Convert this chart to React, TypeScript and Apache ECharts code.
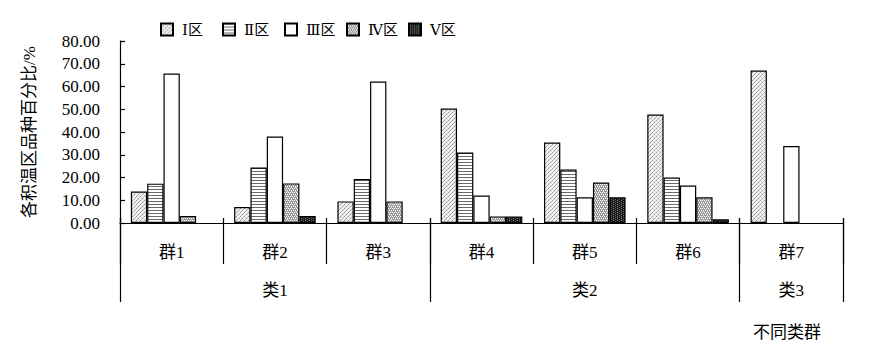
import React, { useEffect, useRef } from 'react';
import * as echarts from 'echarts';

const groups = ['群1', '群2', '群3', '群4', '群5', '群6', '群7'];
const classLabels = ['', '类1', '', '', '类2', '', '类3'];
const seriesNames = ['Ⅰ区', 'Ⅱ区', 'Ⅲ区', 'Ⅳ区', 'Ⅴ区'];
const zoneI = [13.8, 7.0, 9.5, 50.3, 35.4, 47.7, 67.0];
const zoneII = [17.3, 24.4, 19.3, 31.0, 23.5, 20.0, null];
const zoneIII = [65.7, 38.0, 62.2, 12.1, 11.3, 16.5, 33.8];
const zoneIV = [3.1, 17.4, 9.5, 2.9, 17.8, 11.3, null];
const zoneV = [null, 3.1, null, 2.9, 11.3, 1.6, null];
const yAxisTitle = '各积温区品种百分比/%';
const xAxisTitle = '不同类群';

const FONT = "'Liberation Serif', 'DejaVu Serif', 'Noto Sans CJK SC', serif";
const legendLefts = [160, 222, 284, 346, 408];

function makePattern(size: number, draw: (ctx: CanvasRenderingContext2D) => void) {
  const c = document.createElement('canvas');
  c.width = size;
  c.height = size;
  const ctx = c.getContext('2d') as CanvasRenderingContext2D;
  draw(ctx);
  return { image: c.toDataURL(), repeat: 'repeat', imageWidth: size, imageHeight: size };
}

function px(ctx: CanvasRenderingContext2D, x: number, y: number, col: string) {
  ctx.fillStyle = col;
  ctx.fillRect(x, y, 1, 1);
}

export default function App() {
  const ref = useRef<HTMLDivElement>(null);
  useEffect(() => {
    if (!ref.current) return;
    const chart = echarts.init(ref.current, undefined, { renderer: 'svg' });

    const patI = makePattern(4, (ctx) => {
      ctx.fillStyle = '#eaeaea';
      ctx.fillRect(0, 0, 4, 4);
      px(ctx, 0, 0, '#9a9a9a');
      px(ctx, 2, 2, '#9a9a9a');
      px(ctx, 1, 3, '#c0c0c0');
      px(ctx, 3, 1, '#c0c0c0');
      px(ctx, 2, 0, '#ffffff');
      px(ctx, 0, 2, '#ffffff');
    });
    const patII = makePattern(3, (ctx) => {
      ctx.fillStyle = '#ffffff';
      ctx.fillRect(0, 0, 3, 3);
      ctx.fillStyle = '#6a6a6a';
      ctx.fillRect(0, 0, 3, 1);
    });
    const patIV = makePattern(4, (ctx) => {
      ctx.fillStyle = '#9a9a9a';
      ctx.fillRect(0, 0, 4, 4);
      px(ctx, 0, 0, '#ffffff');
      px(ctx, 2, 0, '#ffffff');
      px(ctx, 1, 2, '#ffffff');
      px(ctx, 3, 2, '#ffffff');
      px(ctx, 1, 1, '#d0d0d0');
      px(ctx, 3, 3, '#d0d0d0');
    });
    const patV = makePattern(4, (ctx) => {
      ctx.fillStyle = '#1a1a1a';
      ctx.fillRect(0, 0, 4, 4);
      px(ctx, 1, 0, '#888888');
      px(ctx, 1, 2, '#888888');
      px(ctx, 3, 1, '#666666');
      px(ctx, 3, 3, '#666666');
    });
    const fills: any[] = [patI, patII, '#ffffff', patIV, patV];
    const datas = [zoneI, zoneII, zoneIII, zoneIV, zoneV];

    const lineStyle = { color: '#000', width: 1.2 };

    const option: any = {
      animation: false,
      textStyle: { fontFamily: FONT, color: '#000' },
      legend: seriesNames.map((name, k) => ({
        left: legendLefts[k],
        top: 22,
        padding: 0,
        itemWidth: 12,
        itemHeight: 12,
        icon: 'rect',
        selectedMode: false,
        data: [name],
        textStyle: { fontSize: 15, color: '#000', fontFamily: FONT, padding: [0, 0, 0, 4] },
      })),
      grid: { left: 120, right: 35, top: 41, height: 182 },
      xAxis: [
        {
          type: 'category',
          data: groups,
          axisLine: { show: true, lineStyle },
          axisTick: { show: false },
          axisLabel: { interval: 0, fontSize: 17, color: '#000', margin: 21, fontFamily: FONT },
          splitLine: { show: false },
        },
        {
          type: 'category',
          data: groups,
          position: 'bottom',
          offset: -5,
          axisLine: { show: false },
          axisTick: { show: true, interval: 0, length: 46, lineStyle },
          axisLabel: { show: false },
          splitLine: { show: false },
        },
        {
          type: 'category',
          data: groups,
          position: 'bottom',
          offset: -5,
          axisLine: { show: false },
          axisTick: {
            show: true,
            length: 84,
            interval: (i: number) => i === 0 || i === 3 || i === 6,
            lineStyle,
          },
          axisLabel: {
            interval: (i: number) => classLabels[i] !== '',
            formatter: (_v: string, i: number) => classLabels[i],
            fontSize: 17,
            color: '#000',
            margin: 64,
            fontFamily: FONT,
          },
          splitLine: { show: false },
        },
      ],
      yAxis: {
        type: 'value',
        min: 0,
        max: 80,
        interval: 10,
        axisLine: { show: true, lineStyle },
        axisTick: { show: true, inside: true, length: 5, lineStyle },
        splitLine: { show: false },
        axisLabel: {
          formatter: (v: number) => v.toFixed(2),
          fontSize: 17,
          color: '#000',
          margin: 20,
          fontFamily: FONT,
        },
        name: yAxisTitle,
        nameLocation: 'middle',
        nameGap: 82,
        nameTextStyle: { fontSize: 17, color: '#000', fontFamily: FONT },
      },
      graphic: [
        {
          type: 'text',
          left: 753,
          top: 324,
          style: { text: xAxisTitle, fontSize: 17, fill: '#000', fontFamily: FONT },
        },
      ],
      series: seriesNames.map((name, k) => ({
        name,
        type: 'bar',
        xAxisIndex: 0,
        data: datas[k],
        barGap: '0%',
        barCategoryGap: '21%',
        itemStyle: { color: fills[k], borderColor: '#000', borderWidth: 1.2 },
        emphasis: { disabled: true },
      })),
    };
    chart.setOption(option);
    return () => chart.dispose();
  }, []);
  return (
    <div
      ref={ref}
      style={{ position: 'fixed', left: 0, top: 0, width: 878, height: 352, background: '#fff' }}
    />
  );
}
